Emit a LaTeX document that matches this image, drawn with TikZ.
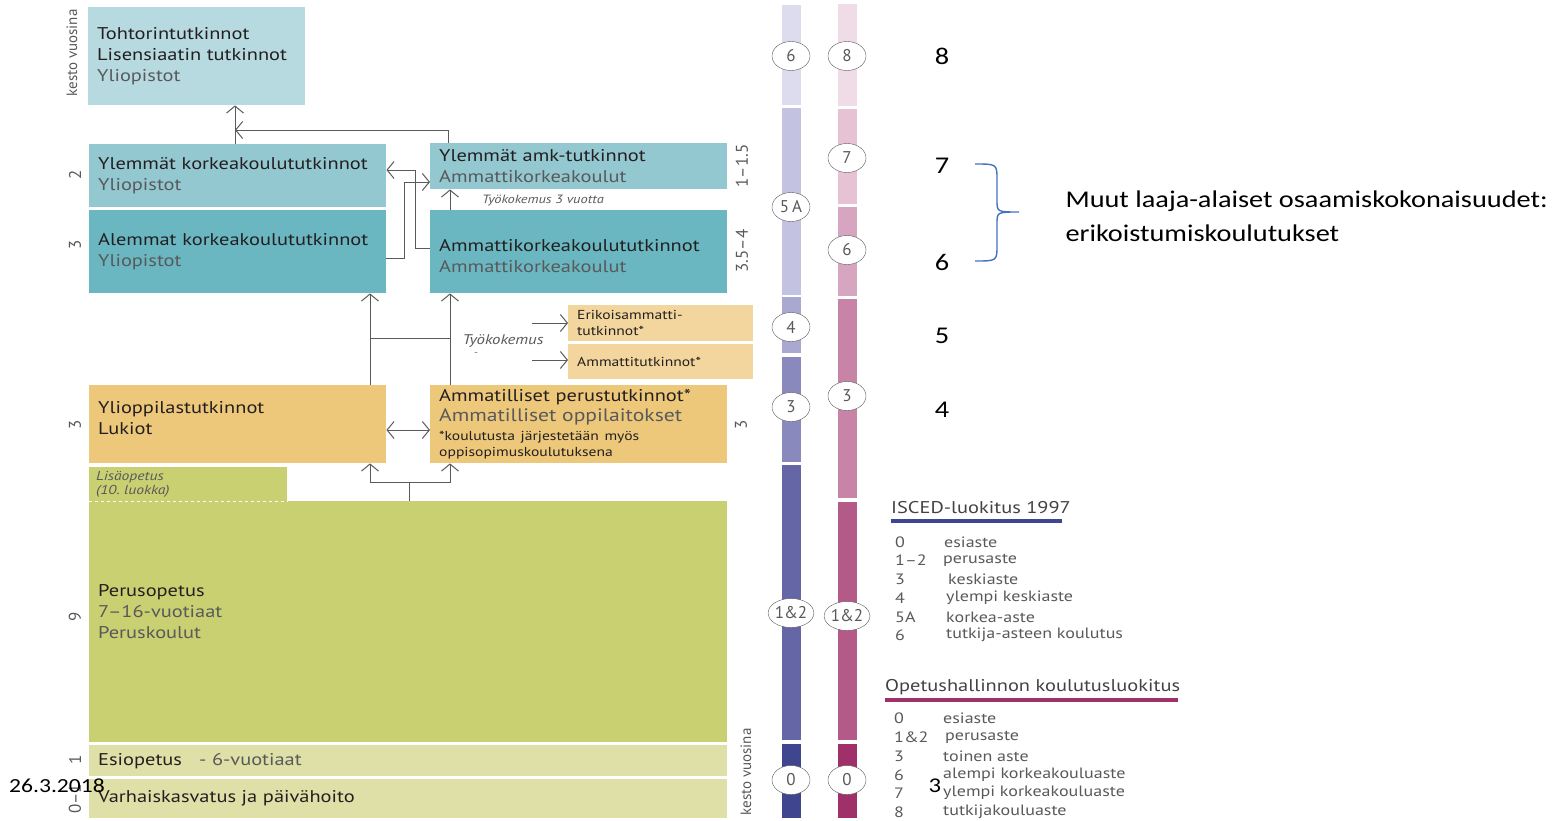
\documentclass[tikz,border=0pt]{standalone}
\usepackage{fontspec}
\setmainfont{PT Sans}[FakeStretch=1.2]
\newfontfamily\plainsans{PT Sans}
\newfontfamily\calibri{Carlito}[FakeStretch=1.18]
\usepackage{tikz}
\usetikzlibrary{calc,positioning,arrows.meta,shapes.geometric}

\definecolor{txtdark}{HTML}{231F20}
\definecolor{txtgray}{HTML}{58595B}
\definecolor{linegray}{HTML}{5A5A5A}
\definecolor{tohtoric}{HTML}{B6DADF}
\definecolor{ylkkc}{HTML}{94C8D1}
\definecolor{alkkc}{HTML}{6AB7C1}
\definecolor{toinenc}{HTML}{EDC87A}
\definecolor{erikc}{HTML}{F3D69E}
\definecolor{perusc}{HTML}{C9D072}
\definecolor{esic}{HTML}{DEE0A8}
\definecolor{isca}{HTML}{DCDCEE}
\definecolor{iscb}{HTML}{C3C3E1}
\definecolor{iscc}{HTML}{A9A8D0}
\definecolor{iscd}{HTML}{8A89BE}
\definecolor{isce}{HTML}{6566A6}
\definecolor{iscf}{HTML}{40458F}
\definecolor{opha}{HTML}{F0DCE6}
\definecolor{ophb}{HTML}{E6C2D4}
\definecolor{ophc}{HTML}{D6A5BF}
\definecolor{ophd}{HTML}{C784A7}
\definecolor{ophe}{HTML}{B45A88}
\definecolor{ophf}{HTML}{A0306A}
\definecolor{bracec}{HTML}{4472C4}

\newcommand{\subtxt}[1]{\textcolor{txtgray}{#1}}
\frenchspacing

\begin{document}
\begin{tikzpicture}[x=1pt, y=-1pt,
    >={Straight Barb[length=7pt,width=17pt]},
    box/.style={anchor=north west, inner xsep=9pt, inner ysep=0pt, align=left, fill=#1,
      text=txtdark, font=\fontsize{17}{21}\selectfont},
    lvl/.style={ellipse, draw=linegray, fill=white, minimum width=38pt, minimum height=29pt,
      inner sep=0pt, text=txtgray, font=\plainsans\fontsize{17}{20}\selectfont},
    dur/.style={rotate=90, text=txtgray, font=\plainsans\fontsize{17}{20}\selectfont},
    arr/.style={->, draw=linegray, line width=1pt},
    lne/.style={draw=linegray, line width=1pt},
    num/.style={text=black, font=\calibri\fontsize{24}{28}\selectfont},
    leg/.style={anchor=west, inner sep=0pt, text=txtgray, font=\fontsize{15}{18}\selectfont}]
    \useasboundingbox (0,0) rectangle (1560,820);

    % korkea-aste
    \node[box=tohtoric, text width=199pt, minimum height=98pt] (tohtori) at (88,7)
      {Tohtorintutkinnot\\Lisensiaatin tutkinnot\\\subtxt{Yliopistot}};
    \node[box=ylkkc, text width=279pt, minimum height=63pt] (ylkk) at (89,144)
      {Ylemmät korkeakoulututkinnot\\\subtxt{Yliopistot}};
    \node[box=alkkc, text width=279pt, minimum height=83pt] (alkk) at (89,210)
      {Alemmat korkeakoulututkinnot\\\subtxt{Yliopistot}};
    \node[box=ylkkc, text width=279pt, minimum height=46pt] (ylamk) at (430,143)
      {Ylemmät amk-tutkinnot\\\subtxt{Ammattikorkeakoulut}};
    \node[box=alkkc, text width=279pt, minimum height=83pt] (amk) at (430,210)
      {\rule{0pt}{21pt}Ammattikorkeakoulututkinnot\\\subtxt{Ammattikorkeakoulut}};

    % toinen aste
    \node[box=erikc, text width=167pt, minimum height=36pt, font=\fontsize{13}{16}\selectfont] (erik) at (568,305)
      {Erikoisammatti-\\tutkinnot*};
    \node[box=erikc, text width=167pt, minimum height=35pt, font=\fontsize{13}{16}\selectfont] (amt) at (568,344)
      {Ammattitutkinnot*};
    \node[box=toinenc, text width=279pt, minimum height=78pt] (yliopp) at (89,385)
      {Ylioppilastutkinnot\\Lukiot\\[-9pt]\mbox{}};
    \node[box=toinenc, text width=279pt, minimum height=78pt] (amm) at (430,385)
      {Ammatilliset perustutkinnot*\\[-1pt]
       {\fontsize{18}{21}\selectfont\subtxt{Ammatilliset oppilaitokset}}\\[-2pt]
       {\fontsize{13}{16}\selectfont *koulutusta järjestetään myös}\\[-5pt]
       {\fontsize{13}{16}\selectfont oppisopimuskoulutuksena}};

    % perusaste
    \node[box=perusc, text width=620pt, minimum height=241pt] (perus) at (89,501)
      {Perusopetus\\\subtxt{7–16-vuotiaat}\\\subtxt{Peruskoulut}\\\mbox{}};
    \node[box=perusc, text width=184pt, minimum height=34pt, inner xsep=7pt,
      font=\itshape\fontsize{13}{14}\selectfont, text=txtgray] (lisa) at (89,467)
      {Lisäopetus\\(10. luokka)};
    \draw[white, dashed, line width=1pt] (lisa.south west) -- (lisa.south east);
    \node[box=esic, text width=620pt, minimum height=31pt] (esi) at (89,745)
      {Esiopetus\quad\subtxt{- 6-vuotiaat}};
    \node[box=esic, text width=620pt, minimum height=39pt] (varh) at (89,779)
      {Varhaiskasvatus ja päivähoito};

    % kesto vuosina
    \node[dur, font=\plainsans\fontsize{15}{18}\selectfont] (kestoa) at (72,53) {kesto vuosina};
    \node[dur] (da) at (75,175) {2};
    \node[dur] (db) at (75,245) {3};
    \node[dur] (dc) at (75,425) {3};
    \node[dur] (dd) at (75,617) {9};
    \node[dur] (de) at (75,760) {1};
    \node[dur] (df) at (75,799) {0–1};
    \node[dur] (dg) at (742,166) {1–1.5};
    \node[dur] (dh) at (742,251) {3.5–4};
    \node[dur] (di) at (741,425) {3};
    \node[dur, font=\plainsans\fontsize{15}{18}\selectfont] (kestob) at (746,772) {kesto vuosina};

    % lanes for the arrows
    \coordinate (jU) at (235,130);
    \coordinate (jA) at (448,130);
    \coordinate (jB) at (415,170);
    \coordinate (jC) at (415,248);
    \coordinate (jD) at (404,258);
    \coordinate (jE) at (404,182);
    \coordinate (jF) at (450,200);
    \coordinate (jG) at (370,338);
    \coordinate (jH) at (450,338);
    \coordinate (jI) at (532,323);
    \coordinate (jJ) at (532,360);
    \coordinate (jK) at (400,430);
    \coordinate (jL) at (409,482);

    % transitions
    \draw[arr] (ylkk.north -| jU) -- (tohtori.south -| jU);
    \draw[arr] (ylamk.north -| jA) -- (jA) -- (jU);
    \draw[arr] (amk.west |- jC) -- (jC) -- (jB) -- (ylkk.east |- jB);
    \draw[arr] (alkk.east |- jD) -- (jD) -- (jE) -- (ylamk.west |- jE);
    \draw[arr] (amk.north -| jF) -- (ylamk.south -| jF);
    \draw[arr] (yliopp.north -| jG) -- (alkk.south -| jG);
    \draw[arr] (amm.north -| jH) -- (amk.south -| jH);
    \draw[lne] (jG) -- (jH);
    \draw[arr] (jI) -- (erik.west |- jI);
    \draw[arr] (jJ) -- (amt.west |- jJ);
    \draw[arr, <->] (yliopp.east |- jK) -- (amm.west |- jK);
    \draw[arr] (perus.north -| jL) -- (jL) -| (yliopp.south -| jG);
    \draw[arr] (jL) -| (amm.south -| jH);

    % tyokokemus
    \node[text=txtgray, font=\itshape\fontsize{12}{14}\selectfont] (tyo3) at (543,200) {Työkokemus 3 vuotta};
    \node[text=txtgray, font=\itshape\fontsize{14}{16}\selectfont] (tyo) at (503,341) {Työkokemus};
    \node[text=txtgray, font=\fontsize{9}{10}\selectfont] (viiva) at (476,354) {-};

    % ISCED bar
    \fill[isca] (782,5) rectangle (801,105);
    \fill[iscb] (782,108) rectangle (801,295);
    \fill[iscc] (782,297) rectangle (801,353);
    \fill[iscd] (782,357) rectangle (801,462);
    \fill[isce] (782,465) rectangle (801,740);
    \fill[iscf] (782,744) rectangle (801,818);
    \node[lvl] (i6) at (791,56) {6};
    \node[lvl] (i5a) at (791,207) {5\,A};
    \node[lvl] (i4) at (791,327) {4};
    \node[lvl] (i3) at (791,407) {3};
    \node[lvl] (i12) at (791,613) {1\&2};
    \node[lvl] (i0) at (791,780) {0};

    % Opetushallinto bar
    \fill[opha] (838,4) rectangle (857,106);
    \fill[ophb] (838,109) rectangle (857,204);
    \fill[ophc] (838,207) rectangle (857,296);
    \fill[ophd] (838,299) rectangle (857,498);
    \fill[ophe] (838,502) rectangle (857,740);
    \fill[ophf] (838,744) rectangle (857,818);
    \node[lvl] (o8) at (847,56) {8};
    \node[lvl] (o7) at (847,158) {7};
    \node[lvl] (o6) at (847,250) {6};
    \node[lvl] (o3) at (847,396) {3};
    \node[lvl] (o12) at (847,616) {1\&2};
    \node[lvl] (o0) at (847,780) {0};

    % new levels
    \node[num] (n8) at (942,56) {8};
    \node[num] (n7) at (942,166) {7};
    \node[num] (n6) at (942,262) {6};
    \node[num] (n5) at (942,336) {5};
    \node[num] (n4) at (942,410) {4};
    \coordinate (bt) at (975,164);
    \coordinate (bb) at (975,261);
    \draw[bracec, line width=1.4pt] (bt) .. controls (997,164) .. (997,180) -- (997,200)
      .. controls (997,212) .. (1019,212) .. controls (997,212) .. (997,224) -- (997,245)
      .. controls (997,261) .. (bb);
    \node[anchor=west, align=left, font=\calibri\fontsize{24}{34}\selectfont] (muut) at (1062,216)
      {Muut laaja-alaiset osaamiskokonaisuudet:\\erikoistumiskoulutukset};

    % legend ISCED
    \node[leg, text=txtdark!85, font=\fontsize{17}{20}\selectfont] (isced) at (891,508) {ISCED-luokitus 1997};
    \draw[iscf, line width=4pt] (891,521) -- (1062,521);
    \node[leg] (ic0) at (895,542) {0};    \node[leg] (it0) at (944,542) {esiaste};
    \node[leg] (ic1) at (895,560) {1–2};  \node[leg] (it1) at (943,560) {perusaste};
    \node[leg] (ic3) at (895,579) {3};    \node[leg] (it3) at (948,579) {keskiaste};
    \node[leg] (ic4) at (895,598) {4};    \node[leg] (it4) at (946,598) {ylempi keskiaste};
    \node[leg] (ic5) at (895,617) {5A};   \node[leg] (it5) at (946,617) {korkea-aste};
    \node[leg] (ic6) at (895,635) {6};    \node[leg] (it6) at (946,635) {tutkija-asteen koulutus};

    % legend Opetushallinto
    \node[leg, text=txtdark!85, font=\fontsize{17}{20}\selectfont] (ophl) at (885,687) {Opetushallinnon koulutusluokitus};
    \draw[ophf, line width=4pt] (885,700) -- (1178,700);
    \node[leg] (oc0) at (894,718) {0};    \node[leg] (ot0) at (943,718) {esiaste};
    \node[leg] (oc1) at (894,737) {1\&2}; \node[leg] (ot1) at (945,737) {perusaste};
    \node[leg] (oc3) at (894,756) {3};    \node[leg] (ot3) at (943,756) {toinen aste};
    \node[leg] (oc6) at (894,775) {6};    \node[leg] (ot6) at (943,775) {alempi korkeakouluaste};
    \node[leg] (oc7) at (894,793) {7};    \node[leg] (ot7) at (943,793) {ylempi korkeakouluaste};
    \node[leg] (oc8) at (894,812) {8};    \node[leg] (ot8) at (943,812) {tutkijakouluaste};

    % date and page
    \node[anchor=west, inner sep=0pt, font=\calibri\fontsize{20}{24}\selectfont] (date) at (9,786) {26.3.2018};
    \node[inner sep=0pt, font=\calibri\fontsize{21}{24}\selectfont] (pnum) at (935,786) {3};
\end{tikzpicture}
\end{document}
